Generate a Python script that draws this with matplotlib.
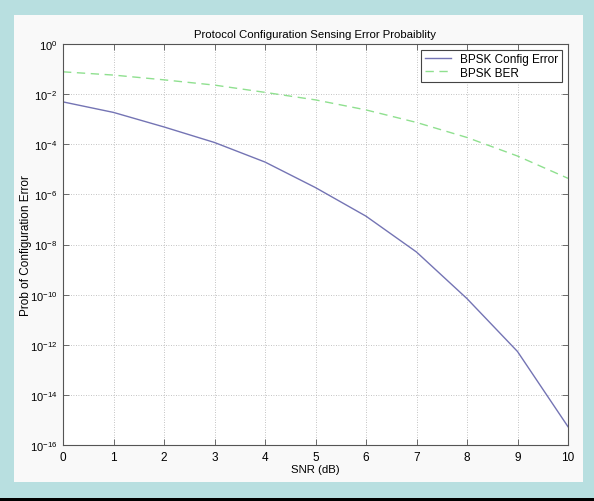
import numpy as np
import matplotlib.pyplot as plt
from matplotlib.patches import Rectangle

plt.rcParams['font.family'] = ['Liberation Sans', 'DejaVu Sans']

snr_db = [0, 1, 2, 3, 4, 5, 6, 7, 8, 9, 10]
# log10 values
config_err_log = [-2.31, -2.73, -3.31, -3.93, -4.71, -5.73, -6.87, -8.30, -10.16, -12.27, -15.27]
ber_log = [-1.11, -1.24, -1.43, -1.64, -1.93, -2.23, -2.63, -3.13, -3.73, -4.47, -5.36]

config_err = 10.0 ** np.array(config_err_log)
ber = 10.0 ** np.array(ber_log)

fig = plt.figure(figsize=(5.94, 5.02), dpi=100, facecolor='#b8dfe0')
W, H = 594.0, 502.0
# inner light panel and black strip at the bottom
fig.patches.append(Rectangle((14 / W, 19 / H), 569 / W, 467 / H, transform=fig.transFigure,
                             facecolor='#f9f9f9', edgecolor='none', zorder=-10))
fig.patches.append(Rectangle((0, 0), 1, 3.5 / H, transform=fig.transFigure,
                             facecolor='black', edgecolor='none', zorder=-10))

ax = fig.add_axes([63 / W, 56 / H, 505 / W, 401 / H])
ax.set_facecolor('white')
ax.semilogy(snr_db, config_err, color='#7474b4', lw=1.0, label='BPSK Config Error')
ax.semilogy(snr_db, ber, color='#8fe08f', lw=1.0, ls=(0, (6, 4)), label='BPSK BER')

ax.set_xlim(0, 10)
ax.set_ylim(1e-16, 1)
ax.set_xticks(range(0, 11))
ax.set_yticks([10.0 ** k for k in range(-16, 1, 2)])
ax.minorticks_off()
ax.tick_params(direction='in', top=True, right=True, length=4, width=0.6,
               labelsize=8.5, color='#555555', pad=4)
ax.tick_params(axis='y', labelsize=8)
ax.grid(True, ls=(0, (1, 2)), color='#b0b0b0', lw=0.6)
for s in ax.spines.values():
    s.set_color('#555555')
    s.set_linewidth(0.8)

ax.set_title('Protocol Configuration Sensing Error Probaiblity', fontsize=8.2, pad=5)
ax.set_xlabel('SNR (dB)', fontsize=8.2, labelpad=1)
ax.set_ylabel('Prob of Configuration Error', fontsize=8.5)
ax.yaxis.set_label_coords(-0.061, 0.5)

leg = ax.legend(loc='upper right', fontsize=8.5, fancybox=False, framealpha=1,
                edgecolor='#444444', borderpad=0.3, handlelength=2.2,
                labelspacing=0.1, borderaxespad=0.5)
leg.get_frame().set_linewidth(0.8)

fig.savefig('out.png', dpi=100, facecolor=fig.get_facecolor())
